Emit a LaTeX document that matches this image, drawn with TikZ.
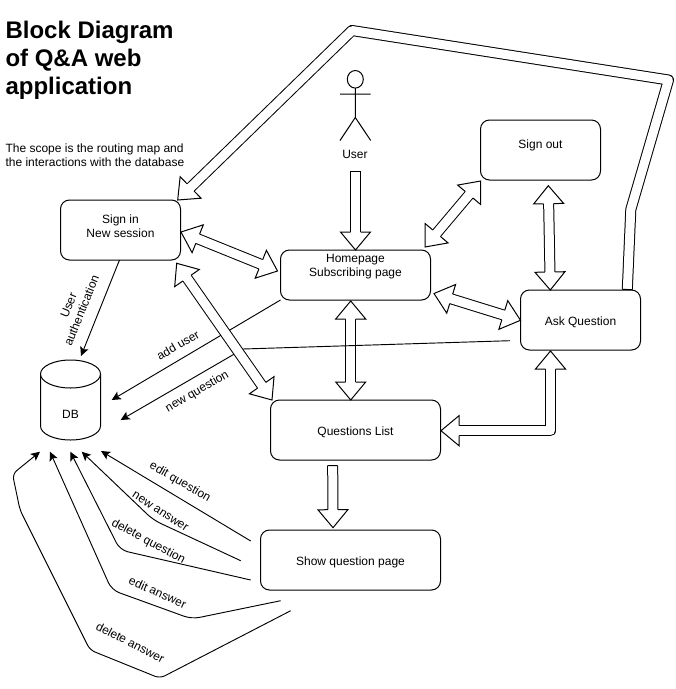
\documentclass[tikz,border=0pt]{standalone}
\usepackage{fontspec}
\setmainfont{Liberation Sans}
\usetikzlibrary{arrows.meta,calc}
\tikzset{
  every node/.append style={font=\fontsize{9pt}{10.5pt}\selectfont,inner sep=0pt,outer sep=0pt},
  boxnode/.style={draw=black,fill=white,line width=.75pt,rounded corners=6.75pt,align=center},
  boxtext/.style={text height=9.5pt,text depth=2pt},
  thinline/.style={draw=black,line width=.7pt,-{Stealth[length=6.75pt,width=6.5pt,inset=1.5pt]},line join=round},
  bodyline/.style={draw=black,line width=.75pt,double=white,double distance=6.75pt,line join=round},
  edgeline/.style={draw=black,line width=.75pt,line join=miter},
  headfill/.style={draw=black,fill=white,line width=.75pt,line join=miter},
  titletext/.style={font=\fontsize{18pt}{21pt}\selectfont\bfseries,align=left},
  flowtext/.style={align=left},
  edgetext/.style={align=center}
}
\newcommand{\blockhead}[2]{%
  \filldraw[headfill] let \p1=#1,\p2=#2,\n1={atan2(\y1-\y2,\x1-\x2)} in
    ($(\p2)+(\n1:13.5pt)+(\n1+90:3.75pt)$) -- ($(\p2)+(\n1:13.5pt)+(\n1+90:11.25pt)$) --
    (\p2) --
    ($(\p2)+(\n1:13.5pt)+(\n1-90:11.25pt)$) -- ($(\p2)+(\n1:13.5pt)+(\n1-90:3.75pt)$);}
\newcommand{\blocktail}[2]{%
  \draw[edgeline] let \p1=#1,\p2=#2,\n1={atan2(\y2-\y1,\x2-\x1)} in
    ($(\p1)+(\n1+90:3.75pt)$) -- ($(\p1)+(\n1-90:3.75pt)$);}
\newcommand{\blockboth}[2]{%
  \draw[bodyline,shorten <=13pt,shorten >=13pt] #1 -- #2;
  \blockhead{#2}{#1}\blockhead{#1}{#2}}
\newcommand{\blockone}[2]{%
  \draw[bodyline,shorten >=13pt] #1 -- #2;
  \blocktail{#1}{#2}\blockhead{#1}{#2}}
\begin{document}
\begin{tikzpicture}[x=.75pt,y=-.75pt]
\useasboundingbox[fill=white] (0,0) rectangle (675,689);

% title and note
\node[titletext,anchor=north west] (title) at (5.5,21) {Block Diagram\\of Q\&A web\\application};
\node[flowtext,anchor=north west] (scope) at (5.5,143.5) {The scope is the routing map and\\the interactions with the database};

% boxes
\node[boxnode,minimum width=90pt,minimum height=45pt,label={[align=center,yshift=2.6pt]center:Sign in\\New session}] (signin) at (120.5,230) {};
\node[boxnode,minimum width=112.5pt,minimum height=37.5pt,label={[align=center,yshift=6pt]center:Homepage\\Subscribing page}] (home) at (355.5,275) {};
\node[boxnode,minimum width=90pt,minimum height=45pt,label={[yshift=3.75pt]center:Sign out}] (signout) at (540.5,150) {};
\node[boxnode,boxtext,minimum width=90pt,minimum height=45pt] (ask) at (580.5,320) {Ask Question};
\node[boxnode,boxtext,minimum width=127.5pt,minimum height=45pt] (questions) at (355.5,430) {Questions List};
\node[boxnode,boxtext,minimum width=135pt,minimum height=45pt] (show) at (350.5,560) {Show question page};

% database
\draw[line width=.75pt,fill=white] (40.5,374) -- (40.5,426) arc[start angle=180,end angle=360,x radius=22.5pt,y radius=10.5pt] -- (100.5,374);
\draw[line width=.75pt,fill=white] (70.5,374) ellipse [x radius=22.5pt,y radius=10.5pt];
\node[minimum width=45pt,minimum height=60pt,label={[yshift=-10.8pt]center:DB}] (db) at (70.5,400) {};

% actor
\node (user) at (355,154.4) {User};
\draw[line width=.75pt] (355.3,79.3) ellipse [x radius=6pt,y radius=6.6pt];
\draw[line width=.75pt] (355.3,88.2) -- (355.3,117.5) (340,94) -- (370.7,94) (340,140.5) -- (355.3,117.5) -- (370.7,140.5);

% block arrows below the thin lines
\blockboth{($(home.south)+(-4.8,1)$)}{($(questions.north)+(-4.8,0)$)}

% thin connectors that pass under a block arrow
\coordinate (nqbend) at (243,349);
\draw[thinline] (home.south west) -- ($(db.east)+(11.2,0)$);
\draw[thinline] ($(ask.west)+(-10.5,20.7)$) -- (nqbend) -- ($(db.east)+(20.2,20)$);

% remaining straight block arrows
\blockboth{($(signin.south east)+(-3.8,3.3)$)}{($(questions.north west)+(1.5,0)$)}
\blockboth{($(signin.east)+(.5,2)$)}{($(home.west)+(-3,-4)$)}
\blockboth{($(home.north east)+(-5.5,-3)$)}{($(signout.south west)+(.2,1)$)}
\blockboth{($(home.south east)+(3.5,-6.5)$)}{($(ask.west)+(0,.3)$)}
\blockboth{($(signout.south)+(7.8,5.7)$)}{($(ask.north)+(-30.2,0)$)}
\blockone{($(user)+(.5,16.6)$)}{(home.north)}
\blockone{($(questions.south)+(-22.8,5.7)$)}{($(show.north)+(-17.5,-2.3)$)}

% bent block arrow: questions list <-> ask question
\coordinate (qacorner) at (550.5,430.7);
\draw[bodyline,shorten <=13pt,shorten >=13pt] ($(questions.east)+(.5,.7)$) -- (qacorner) -- ($(ask.south)+(-30,1)$);
\blockhead{(qacorner)}{($(questions.east)+(.5,.7)$)}
\blockhead{(qacorner)}{($(ask.south)+(-30,1)$)}

% bent block arrow: ask question -> sign in
\coordinate (bigA) at (630.8,209.5);
\coordinate (bigB) at (668.5,80);
\coordinate (bigC) at (352,30.5);
\draw[bodyline,shorten >=13pt] ($(ask.north)+(46.8,-.5)$) -- (bigA) -- (bigB) -- (bigC) -- ($(signin.north east)+(-2.8,0)$);
\blocktail{($(ask.north)+(46.8,-.5)$)}{(bigA)}
\blockhead{(bigC)}{($(signin.north east)+(-2.8,0)$)}

% thin connectors
\draw[thinline] ($(signin.south)+(-1,0)$) -- ($(db.north)+(10.5,-4)$);
\draw[thinline] ($(show.west)+(-9.8,-19)$) -- ($(db.south)+(30.5,11)$);
\coordinate (naA) at (153.3,520);
\draw[thinline,rounded corners=6pt] ($(show.west)+(-19.8,.7)$) -- (naA) -- ($(db.south)+(11.2,11.7)$);
\coordinate (dqA) at (120,550);
\draw[thinline,rounded corners=6pt] ($(show.west)+(-9.8,20)$) -- (dqA) -- ($(db.south)+(-.2,11.7)$);
\coordinate (eaA) at (191.7,619);
\coordinate (eaB) at (111.7,590);
\draw[thinline,rounded corners=6pt] ($(show.south west)+(20.2,10.7)$) -- (eaA) -- (eaB) -- ($(db.south)+(-20.5,11.7)$);
\coordinate (daA) at (160,678.3);
\coordinate (daB) at (90,650);
\coordinate (daC) at (20,510);
\coordinate (daD) at (12.5,474);
\draw[thinline,rounded corners=4pt] ($(show.south west)+(30.2,20.7)$) -- (daA) -- (daB) -- (daC) -- (daD) -- ($(db.south)+(-30.5,11.7)$);

% connector labels
\node[edgetext,rotate=68] (authlabel) at (75,308) {User\\authentication};
\node[edgetext,rotate=30] (adduserlabel) at (178,345) {add user};
\node[edgetext,rotate=30] (newqlabel) at (197.3,391.7) {new question};
\node[edgetext,rotate=-30] (editqlabel) at (180,482) {edit question};
\node[edgetext,rotate=-33] (newalabel) at (160.3,511.7) {new answer};
\node[edgetext,rotate=-28] (delqlabel) at (148.3,541.7) {delete question};
\node[edgetext,rotate=-24] (editalabel) at (157.7,592.3) {edit answer};
\node[edgetext,rotate=-27] (delalabel) at (130.3,642.3) {delete answer};
\end{tikzpicture}
\end{document}
